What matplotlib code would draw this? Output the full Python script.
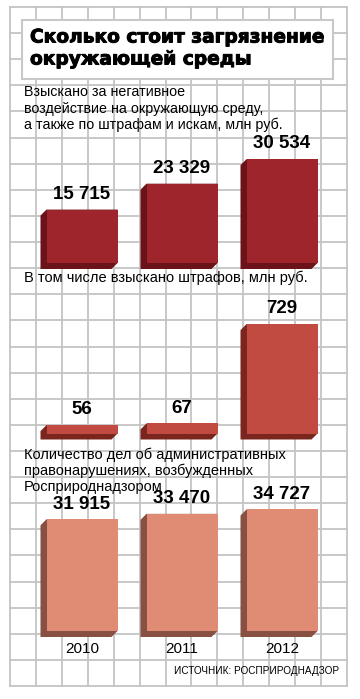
import matplotlib
matplotlib.use("Agg")
import matplotlib.pyplot as plt
import matplotlib.patheffects as pe
from matplotlib.patches import Polygon, Rectangle

# данные
years = ["2010", "2011", "2012"]
recovered = [15715, 23329, 30534]      # взыскано, млн руб.
fines = [56, 67, 729]                   # в том числе штрафов, млн руб.
cases = [31915, 33470, 34727]           # количество дел

title = "Сколько стоит загрязнение\nокружающей среды"
sub1 = ["Взыскано за негативное",
        "воздействие на окружающую среду,",
        "а также по штрафам и искам, млн руб."]
sub2 = ["В том числе взыскано штрафов, млн руб."]
sub3 = ["Количество дел об административных",
        "правонарушениях, возбужденных",
        "Росприроднадзором"]
source = "ИСТОЧНИК: РОСПРИРОДНАДЗОР"

W, H = 360, 699
fig = plt.figure(figsize=(W / 100, H / 100), dpi=100)
fig.patch.set_facecolor("white")

# фон с сеткой (пиксельные координаты)
bg = fig.add_axes([0, 0, 1, 1])
bg.set_xlim(0, W)
bg.set_ylim(H, 0)
bg.axis("off")

grid_c = "#c4c4c4"
gx0, gx1, gy0, gy1 = 10, 347, 7, 686
step_x = (gx1 - gx0) / 13
step_y = (gy1 - gy0) / 26
for i in range(14):
    bg.plot([gx0 + i * step_x] * 2, [gy0, gy1], color=grid_c, lw=1.3, zorder=0)
for j in range(27):
    bg.plot([gx0, gx1], [gy1 - j * step_y] * 2, color=grid_c, lw=1.3, zorder=0)

# плашка заголовка
bg.add_patch(Rectangle((22, 20), 311, 59, facecolor="white", edgecolor="#c8c8c8",
                       lw=1.5, zorder=1))
bg.text(30, 48, title, fontsize=13.4, fontweight="bold", family=["DejaVu Sans"],
        va="center", ha="left", linespacing=1.2, zorder=2,
        path_effects=[pe.withStroke(linewidth=0.7, foreground="black")])

txt_font = ["Liberation Sans", "DejaVu Sans"]
for k, line in enumerate(sub1):
    bg.text(24, 92 + k * 16.5, line, fontsize=10.3, family=txt_font, va="center", zorder=2)
for k, line in enumerate(sub2):
    bg.text(24, 278, line, fontsize=10.5, family=txt_font, va="center", zorder=2)
for k, line in enumerate(sub3):
    bg.text(24, 455 + k * 16, line, fontsize=10.5, family=txt_font, va="center", zorder=2)
bg.text(339, 671, source, fontsize=7.2, family=["Liberation Sans Narrow", "Liberation Sans"],
        ha="right", va="center", zorder=2)


def bar_panel(values, base_px, scale, front, side, show_years=False):
    # оси панели: x от 32 до 332 px, 100 px на столбец
    top_px = 140
    left, width = 32, 300
    ax = fig.add_axes([left / W, (H - base_px) / H, width / W, (base_px - top_px) / H])
    ax.set_xlim(-0.5, 2.5)
    ax.set_ylim(0, (base_px - top_px) / scale)
    ax.axis("off")
    ax.patch.set_alpha(0)

    bw = 0.71
    d = 6  # глубина объёма, px
    dx = d / 100
    dy = d / scale
    x = list(range(len(values)))
    bars = ax.bar(x, values, width=bw, color=front, edgecolor="none", zorder=3, clip_on=False)
    for b, v in zip(bars, values):
        x0 = b.get_x()
        x1 = x0 + b.get_width()
        pts = [(x0, v), (x1, v), (x1, 0), (x1 - dx, -dy), (x0 - dx, -dy), (x0 - dx, v - dy)]
        ax.add_patch(Polygon(pts, closed=True, facecolor=side, edgecolor="none",
                             zorder=2, clip_on=False))
        ax.annotate(f"{v:,}".replace(",", " "), (b.get_x() + bw / 2, v),
                    xytext=(0, 11), textcoords="offset points", ha="center", va="center",
                    fontsize=13.5, fontweight="bold", family=txt_font, annotation_clip=False)
    if show_years:
        for xi, yr in zip(x, years):
            ax.annotate(yr, (xi, 0), xytext=(0, -13), textcoords="offset points",
                        ha="center", va="center", fontsize=11, family=txt_font,
                        annotation_clip=False)
    return ax


bar_panel(recovered, 263, 0.0034, "#9e252c", "#6b1318")
bar_panel(fines, 433.5, 0.150, "#c14b40", "#7a261f")
bar_panel(cases, 631, 0.0035, "#e08b74", "#875043", show_years=True)

fig.savefig("out.png", dpi=100, facecolor="white")
